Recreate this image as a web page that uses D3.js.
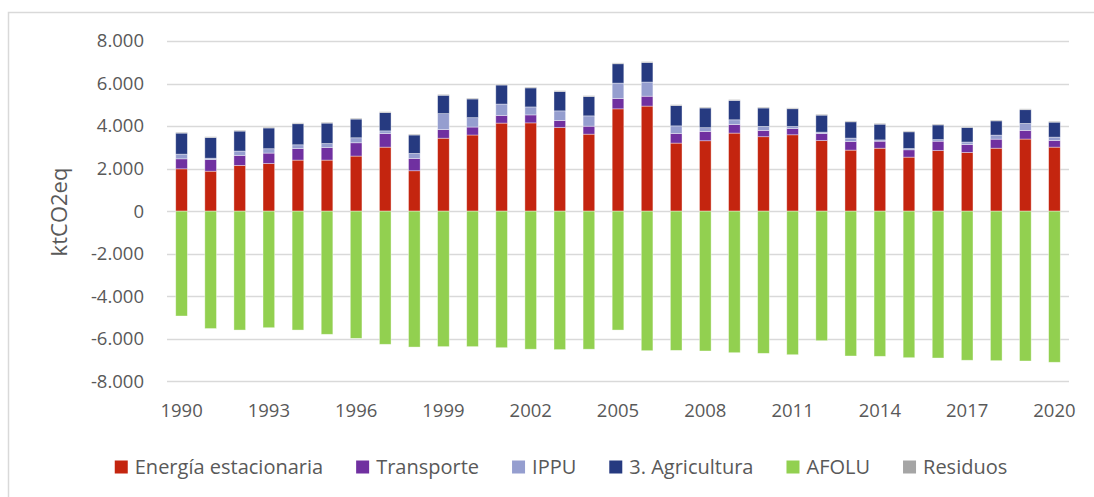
<!DOCTYPE html>
<html>
<head>
  <meta charset="utf-8">
  <title>Emisiones por sector 1990-2020</title>
  <script src="https://cdn.jsdelivr.net/npm/d3@7"></script>
  <style>
    body { margin: 0; background: #fff; font-family: 'Open Sans', sans-serif; }
    svg text { fill: #595959; }
  </style>
</head>
<body>
  <div id="chart"></div>
  <script>
    // años
    const years = d3.range(1990, 2021);

    // series (ktCO2eq)
    const energia = [1990, 1880, 2150, 2240, 2400, 2400, 2590, 3010, 1900, 3430, 3580,
      4140, 4150, 3930, 3620, 4810, 4940, 3200, 3310, 3670, 3500,
      3590, 3320, 2870, 2960, 2540, 2850, 2760, 2960, 3390, 3010];
    const transporte = [470, 545, 470, 490, 545, 590, 625, 640, 580, 405, 375,
      360, 375, 330, 375, 485, 465, 450, 440, 405, 295,
      295, 330, 405, 330, 345, 440, 375, 425, 405, 310];
    const ippu = [220, 65, 205, 205, 175, 190, 235, 125, 235, 750, 440,
      535, 375, 455, 485, 725, 665, 360, 175, 220, 190,
      95, 65, 160, 60, 60, 75, 115, 190, 330, 160];
    const agricultura = [990, 970, 940, 975, 990, 960, 880, 860, 865, 865, 880,
      895, 895, 910, 910, 910, 920, 955, 925, 910, 865,
      835, 800, 765, 740, 785, 690, 685, 670, 645, 705];
    const afolu = [-4930, -5520, -5590, -5480, -5590, -5790, -5980, -6260, -6390, -6370, -6370,
      -6420, -6490, -6510, -6490, -5590, -6560, -6545, -6575, -6655, -6685,
      -6750, -6090, -6810, -6825, -6890, -6905, -7010, -7030, -7045, -7105];
    const residuos = [40, 40, 40, 40, 40, 40, 40, 40, 40, 40, 40,
      40, 40, 40, 40, 40, 40, 40, 40, 40, 40,
      40, 40, 40, 40, 40, 40, 40, 40, 40, 40];

    const seriesNames = ["Energía estacionaria", "Transporte", "IPPU", "3. Agricultura", "AFOLU", "Residuos"];
    const seriesValues = [energia, transporte, ippu, agricultura, afolu, residuos];
    const colors = ["#C4250F", "#7030A0", "#959ECF", "#263A80", "#92D050", "#A5A5A5"];

    const yTicks = [-8000, -6000, -4000, -2000, 0, 2000, 4000, 6000, 8000];
    const xTickYears = years.filter(y => (y - 1990) % 3 === 0);

    const width = 1094, height = 497;

    const rows = years.map((yr, i) => {
      const r = { year: yr };
      seriesNames.forEach((s, k) => r[s] = seriesValues[k][i]);
      return r;
    });

    const stacked = d3.stack()
      .keys(seriesNames)
      .offset(d3.stackOffsetDiverging)(rows);

    const svg = d3.select("#chart").append("svg")
      .attr("width", width)
      .attr("height", height);

    // marco del grafico
    svg.append("rect")
      .attr("x", 8.5).attr("y", 12.5)
      .attr("width", 1120).attr("height", 500)
      .attr("fill", "none")
      .attr("stroke", "#D9D9D9")
      .attr("stroke-width", 1.5);

    const x = d3.scaleBand()
      .domain(years)
      .range([167, 1069])
      .paddingInner(0.6)
      .paddingOuter(0.3);

    const y = d3.scaleLinear()
      .domain([-8000, 8000])
      .range([381.3, 41]);

    const fmt = d3.formatLocale({ decimal: ",", thousands: ".", grouping: [3], currency: ["", ""], minus: "-" }).format(",d");

    // grid
    svg.append("g")
      .selectAll("line")
      .data(yTicks)
      .join("line")
      .attr("x1", 167).attr("x2", 1069)
      .attr("y1", d => Math.round(y(d)) + 0.5)
      .attr("y2", d => Math.round(y(d)) + 0.5)
      .attr("stroke", "#D9D9D9")
      .attr("stroke-width", 1.5);

    // eje y
    const yAxis = svg.append("g")
      .attr("transform", "translate(167,0)")
      .call(d3.axisLeft(y).tickValues(yTicks).tickFormat(fmt).tickSize(0).tickPadding(23));
    yAxis.select(".domain").remove();
    yAxis.selectAll("text")
      .style("font-family", "'Open Sans', sans-serif")
      .style("font-size", "18.5px")
      .attr("fill", "#595959");

    // eje x
    const xAxis = svg.append("g")
      .attr("transform", "translate(0,400)")
      .call(d3.axisBottom(x).tickValues(xTickYears).tickSize(0).tickPadding(4));
    xAxis.select(".domain").remove();
    xAxis.selectAll("text")
      .style("font-family", "'Open Sans', sans-serif")
      .style("font-size", "18.5px")
      .attr("fill", "#595959");

    // barras
    svg.append("g")
      .selectAll("g")
      .data(stacked)
      .join("g")
      .attr("fill", (d, i) => colors[i])
      .selectAll("rect")
      .data(d => d)
      .join("rect")
      .attr("x", d => x(d.data.year))
      .attr("width", x.bandwidth())
      .attr("y", d => y(Math.max(d[0], d[1])))
      .attr("height", d => Math.abs(y(d[0]) - y(d[1])))
      .attr("stroke", "#fff")
      .attr("stroke-opacity", 0.5)
      .attr("stroke-width", 0.75);

    // titulo eje y
    svg.append("text")
      .attr("transform", "translate(67,212) rotate(-90)")
      .attr("text-anchor", "middle")
      .style("font-size", "22px")
      .text("ktCO2eq");

    // leyenda
    const legend = svg.append("g");
    let lx = 0;
    seriesNames.forEach((name, i) => {
      const g = legend.append("g").attr("transform", `translate(${lx},0)`);
      g.append("rect")
        .attr("x", 0).attr("y", -6.5)
        .attr("width", 13).attr("height", 13)
        .attr("fill", colors[i]);
      const t = g.append("text")
        .attr("x", 20).attr("y", 0)
        .attr("dy", "0.35em")
        .style("font-size", "20px")
        .text(name);
      lx += 20 + t.node().getComputedTextLength() + 33;
    });
    lx -= 33;
    legend.attr("transform", `translate(${561 - lx / 2},467)`);
  </script>
</body>
</html>
